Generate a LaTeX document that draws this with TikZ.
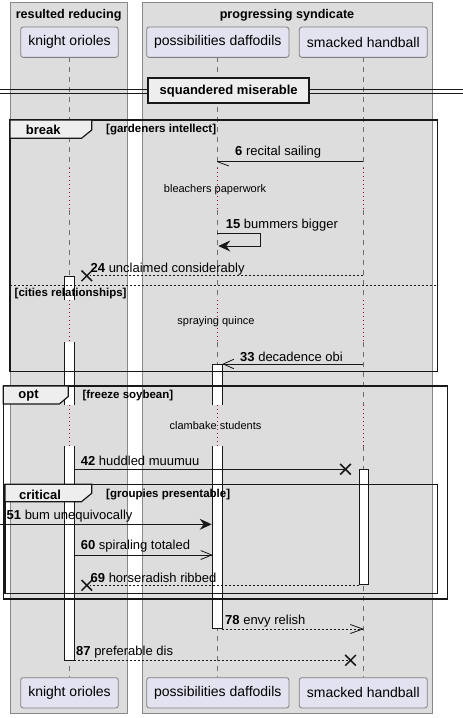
\documentclass[tikz,border=0pt]{standalone}
\usepackage{fontspec}
\setmainfont{Liberation Sans}
\usetikzlibrary{arrows.meta}
\definecolor{grpfill}{HTML}{DDDDDD}
\definecolor{grpline}{HTML}{888888}
\definecolor{partfill}{HTML}{E2E2F0}
\definecolor{partline}{HTML}{7F7F7F}
\definecolor{tabfill}{HTML}{EEEEEE}
\definecolor{lifeline}{HTML}{6E6E6E}
\definecolor{delaydot}{HTML}{A80036}
\definecolor{ink}{HTML}{181818}
\tikzset{
  grpbox/.style={fill=grpfill,draw=grpline,line width=0.8pt},
  grptitle/.style={font=\bfseries\fontsize{12.6}{14}\selectfont,inner sep=0pt,anchor=center},
  partbox/.style={draw=partline,fill=partfill,rounded corners=2.5pt,line width=0.8pt,minimum height=30.3pt,inner sep=0pt,font=\fontsize{14}{16}\selectfont},
  lifel/.style={draw=lifeline,line width=0.7pt,dash pattern=on 5pt off 5pt},
  delayl/.style={draw=delaydot,line width=0.9pt,dash pattern=on 1pt off 3pt},
  delaytxt/.style={font=\fontsize{11}{13}\selectfont,inner sep=0pt,anchor=center},
  actbox/.style={fill=white},
  actside/.style={draw=ink,line width=0.8pt},
  msg/.style={draw=ink,line width=0.8pt},
  dmsg/.style={draw=ink,line width=0.8pt,dash pattern=on 2pt off 2pt},
  msglbl/.style={font=\fontsize{13}{15}\selectfont,inner sep=0pt,anchor=west,yshift=-1.5pt},
  frm/.style={draw=ink,line width=1.5pt},
  tab/.style={fill=tabfill,draw=ink,line width=1.2pt},
  tabtxt/.style={font=\bfseries\fontsize{13}{15}\selectfont,inner sep=0pt,anchor=center},
  guard/.style={font=\bfseries\fontsize{11.5}{13}\selectfont,inner sep=0pt,anchor=west},
  xmark/.style={draw=ink,line width=1.5pt},
  openhead/.style={draw=ink,line width=0.8pt},
}
\begin{document}
\begin{tikzpicture}[x=1pt,y=-1pt]
\useasboundingbox (0,0) rectangle (463,718);
\fill[white] (0,0) rectangle (463,718);
% group boxes
\draw[grpbox] (10,2) rectangle (127.5,713);
\draw[grpbox] (142,2) rectangle (432,713);
\node[grptitle] (g1) at (68.7,15) {resulted reducing};
\node[grptitle] (g2) at (287,15) {progressing syndicate};
% lifelines (segments)
\foreach \lx in {69.3,217.3,363.3}{
  \draw[lifel] (\lx,57.3) -- (\lx,168);
  \draw[lifel] (\lx,210) -- (\lx,300);
  \draw[lifel] (\lx,342) -- (\lx,405);
  \draw[lifel] (\lx,446) -- (\lx,677.3);
  \draw[delayl] (\lx,168) -- (\lx,210);
  \draw[delayl] (\lx,300) -- (\lx,342);
  \draw[delayl] (\lx,405) -- (\lx,446);
}
% participants
\node[partbox,minimum width=97.6pt] (ko) at (69.5,42.2) {knight orioles};
\node[partbox,minimum width=142.3pt] (pd) at (217.8,42.2) {possibilities daffodils};
\node[partbox,minimum width=128pt] (sh) at (363.3,42.2) {smacked handball};
\node[partbox,minimum width=97.6pt] (ko2) at (69.5,692.8) {knight orioles};
\node[partbox,minimum width=142.3pt] (pd2) at (217.8,692.8) {possibilities daffodils};
\node[partbox,minimum width=128pt] (sh2) at (363.3,692.8) {smacked handball};
% divider
\draw[ink,line width=0.9pt] (0,89.5) -- (463,89.5);
\draw[ink,line width=0.9pt] (0,93.5) -- (463,93.5);
\node[draw=ink,fill=tabfill,line width=1.8pt,minimum width=160.7pt,minimum height=25.3pt,inner sep=0pt,font=\bfseries\fontsize{13}{15}\selectfont] (div) at (228.7,90.7) {squandered miserable};
% activations
\fill[actbox] (64.3,276) rectangle (74.3,300);
\fill[actbox] (64.3,342) rectangle (74.3,405);
\fill[actbox] (64.3,446) rectangle (74.3,660);
\draw[actside] (64.3,300) -- (64.3,276) -- (74.3,276) -- (74.3,300);
\draw[actside] (64.3,342) -- (64.3,405) (74.3,342) -- (74.3,405);
\draw[actside] (64.3,446) -- (64.3,660) -- (74.3,660) -- (74.3,446);
\fill[actbox] (212.7,364) rectangle (222.3,405);
\fill[actbox] (212.7,446) rectangle (222.3,628);
\draw[actside] (212.7,405) -- (212.7,364) -- (222.3,364) -- (222.3,405);
\draw[actside] (212.7,446) -- (212.7,628) -- (222.3,628) -- (222.3,446);
\draw[actside,fill=white] (359,469.3) rectangle (368,584.5);
% coordinates for messages
\coordinate (m6a) at (363.3,161.7); \coordinate (m6b) at (217.3,161.7);
\coordinate (m15a) at (217.3,233); \coordinate (m15b) at (217.3,246);
\coordinate (m24a) at (363.3,275.7); \coordinate (m24b) at (90,275.7); \coordinate (x24) at (86.8,275.8);
\coordinate (m33a) at (363.3,364); \coordinate (m33b) at (222.3,364);
\coordinate (m42a) at (74.3,469.3); \coordinate (m42b) at (345.5,469.3); \coordinate (x42) at (345.5,469.3);
\coordinate (m51a) at (0,524.3); \coordinate (m51b) at (212.7,524.3);
\coordinate (m60a) at (74.3,555); \coordinate (m60b) at (212.7,555);
\coordinate (m69a) at (359,585.3); \coordinate (m69b) at (90,585.3); \coordinate (x69) at (86.8,585.3);
\coordinate (m78a) at (222.3,629); \coordinate (m78b) at (362.8,629);
\coordinate (m87a) at (74.3,660.3); \coordinate (m87b) at (350.5,660.3); \coordinate (x87) at (350.5,660.3);
% message 6 (half arrow)
\draw[msg] (m6a) -- (m6b);
\draw[openhead] (m6b) -- ++(11.5,4.2);
\node[msglbl] (l6) at (235,151) {\textbf{6} recital sailing};
% delay 1
\node[delaytxt] (d1) at (215,190) {bleachers paperwork};
% message 15 self
\draw[msg] (m15a) -- ++(42.7,0) |- ([xshift=6pt]m15b);
\fill[ink] ([xshift=1pt]m15b) -- ++(12,-5.5) -- ++(-4,5.5) -- ++(4,5.5) -- cycle;
\node[msglbl] (l15) at (225.7,223.3) {\textbf{15} bummers bigger};
% message 24
\draw[dmsg] (m24a) -- (m24b);
\draw[xmark] ([shift={(-5.3,-5.3)}]x24) -- ([shift={(5.3,5.3)}]x24) ([shift={(-5.3,5.3)}]x24) -- ([shift={(5.3,-5.3)}]x24);
\node[msglbl] (l24) at (90.5,267.3) {\textbf{24} unclaimed considerably};
% else
\draw[ink,line width=0.8pt,dash pattern=on 2pt off 2pt] (10,285) -- (437.7,285);
\node[guard] (e1) at (14.5,293.5) {[cities relationships]};
% delay 2
\node[delaytxt] (d2) at (216,322) {spraying quince};
% message 33
\draw[msg] (m33a) -- (m33b);
\draw[openhead] ([xshift=11.5pt,yshift=-4.7pt]m33b) -- ([xshift=1pt]m33b) -- ([xshift=11.5pt,yshift=4.7pt]m33b);
\node[msglbl] (l33) at (240,355.7) {\textbf{33} decadence obi};
% break frame
\draw[frm] (10,120) rectangle (437.7,371.7);
\draw[tab] (10,120) -- (91.7,120) -- (91.7,130) -- (81.5,138.3) -- (10,138.3) -- cycle;
\node[tabtxt] (tb) at (43.3,129.7) {break};
\node[guard] (gb) at (106,130) {[gardeners intellect]};
% delay 3
\node[delaytxt] (d3) at (215.5,426) {clambake students};
% message 42
\draw[msg] (m42a) -- (m42b);
\draw[xmark] ([shift={(-5.3,-5.3)}]x42) -- ([shift={(5.3,5.3)}]x42) ([shift={(-5.3,5.3)}]x42) -- ([shift={(5.3,-5.3)}]x42);
\node[msglbl] (l42) at (80.7,459.5) {\textbf{42} huddled muumuu};
% message 51
\draw[msg] (m51a) -- ([xshift=-4pt]m51b);
\fill[ink] ([xshift=-1pt]m51b) -- ++(-12,-5.5) -- ++(4,5.5) -- ++(-4,5.5) -- cycle;
\node[msglbl] (l51) at (6.5,514.5) {\textbf{51} bum unequivocally};
% message 60
\draw[msg] (m60a) -- (m60b);
\draw[openhead] ([xshift=-12pt,yshift=-4.5pt]m60b) -- ([xshift=-1pt]m60b) -- ([xshift=-12pt,yshift=4.5pt]m60b);
\node[msglbl] (l60) at (80.7,545) {\textbf{60} spiraling totaled};
% message 69
\draw[dmsg] (m69a) -- (m69b);
\draw[xmark] ([shift={(-5.3,-5.3)}]x69) -- ([shift={(5.3,5.3)}]x69) ([shift={(-5.3,5.3)}]x69) -- ([shift={(5.3,-5.3)}]x69);
\node[msglbl] (l69) at (90.5,576.7) {\textbf{69} horseradish ribbed};
% critical frame
\draw[frm] (5,484.3) rectangle (437.7,593.3);
\draw[tab] (5,484.3) -- (91.7,484.3) -- (91.7,493.3) -- (81.5,501.7) -- (5,501.7) -- cycle;
\node[tabtxt] (tc) at (40,494.5) {critical};
\node[guard] (gc) at (106,494.5) {[groupies presentable]};
% opt frame
\draw[frm] (3.3,386) rectangle (447.7,599);
\draw[tab] (3.3,386) -- (68.3,386) -- (68.3,396.5) -- (59.3,404) -- (3.3,404) -- cycle;
\node[tabtxt] (to) at (28.5,396) {opt};
\node[guard] (go) at (82.3,396) {[freeze soybean]};
% message 78
\draw[dmsg] (m78a) -- (m78b);
\draw[openhead] ([xshift=-12.5pt,yshift=-4.5pt]m78b) -- (m78b) -- ([xshift=-12.5pt,yshift=4.5pt]m78b);
\node[msglbl] (l78) at (225,620) {\textbf{78} envy relish};
% message 87
\draw[dmsg] (m87a) -- (m87b);
\draw[xmark] ([shift={(-5.3,-5.3)}]x87) -- ([shift={(5.3,5.3)}]x87) ([shift={(-5.3,5.3)}]x87) -- ([shift={(5.3,-5.3)}]x87);
\node[msglbl] (l87) at (76,650.3) {\textbf{87} preferable dis};
\end{tikzpicture}
\end{document}
